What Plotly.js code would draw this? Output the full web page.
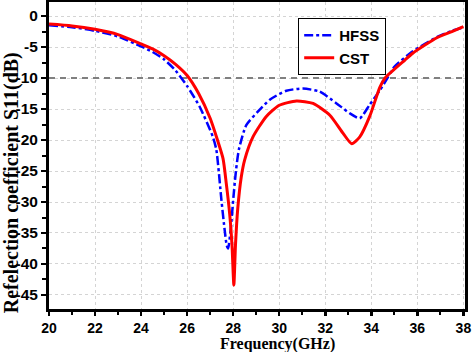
<!DOCTYPE html>
<html>
<head>
<meta charset="utf-8">
<script src="https://cdn.plot.ly/plotly-3.0.1.min.js"></script>
<style>html,body{margin:0;padding:0;background:#fff;}#chart{width:474px;height:352px;}</style>
</head>
<body>
<div id="chart"></div>
<script>
const hfssFreq = [20, 21, 22, 23, 24, 24.5, 25.0, 25.5, 26.0, 26.54, 27.12, 27.27, 27.49, 27.63, 27.72, 27.78, 27.89, 28.0, 28.12, 28.25, 28.57, 29.08, 29.59, 30.31, 31.03, 31.76, 32.49, 33.07, 33.5, 33.93, 34.37, 34.7, 35.0, 35.8, 36.85, 37.5, 38];
const hfssS11 = [-1.5, -1.8, -2.4, -3.3, -4.9, -5.8, -7.0, -8.8, -11.3, -14.6, -19.5, -21.6, -29.7, -34.5, -37.0, -37.5, -34.5, -29.7, -25.0, -21.5, -17.6, -15.4, -13.5, -12.05, -11.7, -12.2, -14.1, -15.7, -16.5, -14.3, -12.0, -10.0, -8.2, -5.7, -3.4, -2.4, -1.8];

const cstFreq = [20, 21, 22, 23, 24, 24.5, 25.0, 25.5, 26.0, 26.5, 27.0, 27.3, 27.56, 27.7, 27.85, 27.95, 28.03, 28.1, 28.2, 28.35, 28.5, 28.86, 29.44, 30.0, 30.75, 31.47, 32.2, 32.77, 33.15, 33.5, 33.93, 34.37, 34.6, 35.46, 35.8, 36.85, 37.5, 38];
const cstS11 = [-1.3, -1.6, -2.15, -3.0, -4.5, -5.3, -6.4, -7.8, -9.6, -12.5, -16.5, -19.8, -23.0, -27.0, -32.0, -37.0, -43.4, -37.0, -31.0, -26.0, -23.2, -19.5, -16.2, -14.4, -13.7, -14.1, -16.0, -18.9, -20.6, -19.5, -16.2, -11.5, -10.0, -7.1, -6.0, -3.5, -2.5, -1.7];

const refFreq = [20, 38.1];
const refLevel = [-10, -10];

const xTicks = [20, 22, 24, 26, 28, 30, 32, 34, 36, 38];
const yTicks = [0, -5, -10, -15, -20, -25, -30, -35, -40, -45];

const traces = [
  {x: refFreq, y: refLevel, mode: 'lines', showlegend: false, hoverinfo: 'skip',
   line: {color: '#808080', width: 2, dash: '6px,5px'}},
  {x: hfssFreq, y: hfssS11, mode: 'lines', name: 'HFSS',
   line: {color: '#0000ff', width: 2.5, dash: 'dashdot', shape: 'spline', smoothing: 0.6}},
  {x: cstFreq, y: cstS11, mode: 'lines', name: 'CST',
   line: {color: '#ff0000', width: 3, shape: 'spline', smoothing: 0.6}}
];

const axisCommon = {
  showline: true, linecolor: '#000', linewidth: 3, mirror: true,
  ticks: 'outside', ticklen: 5, tickwidth: 2.5, tickcolor: '#000',
  showgrid: true, gridcolor: '#d4d4d4', gridwidth: 1, griddash: 'dot',
  zeroline: false,
  tickfont: {family: 'Liberation Sans, Arial, sans-serif', size: 15.5, color: '#000', weight: 'bold'}
};

const titleFont = {family: 'Liberation Serif, Times New Roman, serif', size: 16, color: '#000', weight: 'bold'};

const layout = {
  width: 474, height: 352,
  margin: {l: 49, r: 9, t: 2, b: 43},
  paper_bgcolor: '#fff', plot_bgcolor: '#fff',
  xaxis: Object.assign({}, axisCommon, {
    range: [20, 38.07], tickvals: xTicks, ticktext: xTicks.map(String),
    ticklen: 4,
    tickfont: {family: 'Liberation Sans, Arial, sans-serif', size: 14, color: '#000', weight: 'bold'},
    minor: {dtick: 1, tick0: 20, ticks: 'outside', ticklen: 3, tickwidth: 2, tickcolor: '#000', showgrid: false}
  }),
  yaxis: Object.assign({}, axisCommon, {
    range: [-47.26, 2.26], tickvals: yTicks, ticktext: yTicks.map(String),
    minor: {dtick: 2.5, tick0: 0, ticks: 'outside', ticklen: 4, tickwidth: 2, tickcolor: '#000', showgrid: false}
  }),
  annotations: [
    {text: 'Frequency(GHz)', xref: 'paper', yref: 'paper', x: 0.549, y: -0.114,
     xanchor: 'center', yanchor: 'middle', showarrow: false, font: titleFont},
    {text: 'Refelection coefficient S11(dB)', xref: 'paper', yref: 'paper', x: -0.091, y: 0.41,
     xanchor: 'center', yanchor: 'middle', showarrow: false, textangle: -90,
     font: Object.assign({}, titleFont, {size: 20})}
  ],
  legend: {x: 0.599, y: 0.948, xanchor: 'left', yanchor: 'top',
           bgcolor: '#fff', bordercolor: '#000', borderwidth: 1,
           font: {family: 'Liberation Sans, Arial, sans-serif', size: 15, color: '#000', weight: 'bold'},
           tracegroupgap: 0},
  showlegend: true
};

Plotly.newPlot('chart', traces, layout, {displayModeBar: false, staticPlot: true});
</script>
</body>
</html>
